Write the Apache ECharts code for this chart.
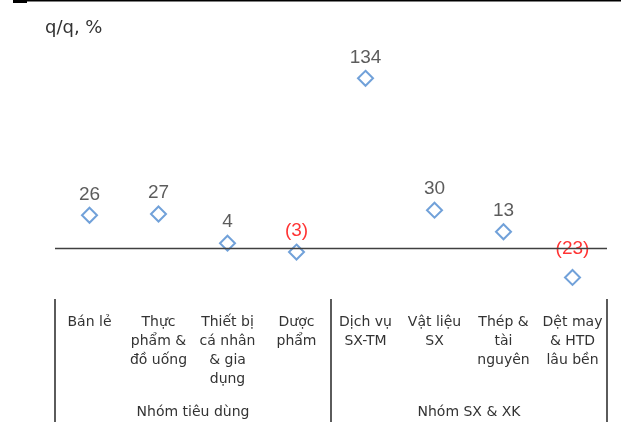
<!DOCTYPE html>
<html>
<head>
<meta charset="utf-8">
<script src="https://cdn.jsdelivr.net/npm/echarts@6/dist/echarts.min.js"></script>
<style>html,body{margin:0;padding:0;background:#fff}#c{width:621px;height:432px}</style>
</head>
<body>
<div id="c"></div>
<script>
const categories = ["Bán lẻ", "Thực\nphẩm &\nđồ uống", "Thiết bị\ncá nhân\n& gia\ndụng", "Dược\nphẩm", "Dịch vụ\nSX-TM", "Vật liệu\nSX", "Thép &\ntài\nnguyên", "Dệt may\n& HTD\nlâu bền"];
const groups = ["Nhóm tiêu dùng", "Nhóm SX & XK"];
const values = [26, 27, 4, -3, 134, 30, 13, -23];
const yTitle = "q/q, %";

const FONT = "DejaVu Sans";
const NUMFONT = "Liberation Sans";
const TEXT = '#333333';
const chart = echarts.init(document.getElementById('c'));
chart.setOption({
  animation: false,
  textStyle: { fontFamily: FONT },
  graphic: [
    { type: 'rect', shape: { x: 13, y: 0, width: 608, height: 1.5 }, style: { fill: '#000' } },
    { type: 'rect', shape: { x: 13, y: 0, width: 14, height: 3 }, style: { fill: '#000' } },
    { type: 'text', left: 45, top: 19, style: { text: yTitle, fontFamily: FONT, fontSize: 18, fill: TEXT } }
  ],
  grid: { left: 55, right: 14, top: 58, height: 241 },
  xAxis: [
    {
      type: 'category', data: categories, position: 'bottom',
      axisLine: { show: false, onZero: false }, axisTick: { show: false },
      axisLabel: { interval: 0, margin: 14, fontSize: 14, lineHeight: 19, color: TEXT, fontFamily: FONT }
    },
    {
      type: 'category', data: groups, position: 'bottom',
      axisLine: { show: false, onZero: false },
      axisTick: { show: true, length: 123, lineStyle: { color: '#333', width: 1.6 } },
      axisLabel: { interval: 0, margin: 104, fontSize: 14, lineHeight: 19, color: TEXT, fontFamily: FONT }
    }
  ],
  yAxis: { type: 'value', min: -40, max: 150, show: false, splitLine: { show: false } },
  series: [{
    type: 'scatter', xAxisIndex: 0,
    symbol: 'diamond', symbolSize: 15,
    itemStyle: { color: '#fff', borderColor: '#4d8ad0', borderWidth: 2 },
    data: values.map((v, i) => ({
      value: v,
      label: Object.assign({ color: v < 0 ? '#ff0000' : TEXT }, i === values.length - 1 ? { offset: [0, -8] } : {})
    })),
    label: {
      show: true, position: 'top', distance: 3, fontSize: 19, fontFamily: NUMFONT,
      formatter: p => p.value < 0 ? '(' + Math.abs(p.value) + ')' : String(p.value)
    },
    markLine: {
      silent: true, symbol: 'none', label: { show: false },
      lineStyle: { color: '#404040', width: 1.4, type: 'solid' },
      data: [{ yAxis: 0 }]
    },
    z: 3
  }]
});
</script>
</body>
</html>
